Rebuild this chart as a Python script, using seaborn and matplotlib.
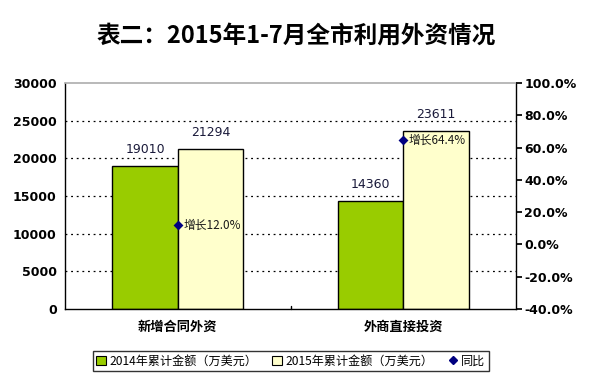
import matplotlib
matplotlib.use("Agg")
import matplotlib.pyplot as plt
from matplotlib.ticker import FuncFormatter, MultipleLocator
from matplotlib.lines import Line2D
from matplotlib.patches import Patch
import seaborn as sns
import pandas as pd

# data
categories = ["新增合同外资", "外商直接投资"]
series_names = ["2014年累计金额（万美元）", "2015年累计金额（万美元）"]
values_2014 = [19010, 14360]
values_2015 = [21294, 23611]
growth = [12.0, 64.4]

CJK = ["Noto Sans CJK SC", "DejaVu Sans"]
green, yellow, navy = "#99CC00", "#FFFFCC", "#000080"

sns.set_theme(style="white")
plt.rcParams["font.family"] = CJK
plt.rcParams.update({"text.color": "black", "xtick.color": "black",
                     "ytick.color": "black", "axes.labelcolor": "black"})

df = pd.DataFrame({
    "cat": categories * 2,
    "series": [series_names[0]] * 2 + [series_names[1]] * 2,
    "value": values_2014 + values_2015,
})

fig = plt.figure(figsize=(5.92, 3.80), dpi=100)
ax = fig.add_axes([65 / 592, 1 - 309 / 380, 451 / 592, 226 / 380])

sns.barplot(data=df, x="cat", y="value", hue="series", order=categories,
            hue_order=series_names, palette=[green, yellow], width=0.58,
            gap=0, saturation=1, edgecolor="black", linewidth=1,
            legend=False, ax=ax, zorder=2)

ax.set_xlim(-0.5, 1.5)
ax.set_ylim(0, 30000)
ax.yaxis.set_major_locator(MultipleLocator(5000))
ax.set_xlabel("")
ax.set_ylabel("")
for y in range(5000, 30000, 5000):
    ax.axhline(y, color="black", lw=0.9, ls=(0, (1.5, 3)), zorder=0)

for cont in ax.containers:
    ax.bar_label(cont, fmt="%d", padding=7, fontsize=9, color="#1a1a3a",
                 family="DejaVu Sans")

for s in ["left", "right", "bottom"]:
    ax.spines[s].set_color("black")
    ax.spines[s].set_linewidth(1)
ax.spines["top"].set_color("#b0b0b0")

ax.tick_params(axis="x", length=0, pad=8)
ax.tick_params(axis="y", length=0, pad=6)
for lab in ax.get_xticklabels():
    lab.set_fontweight("bold")
    lab.set_fontsize(9.5)
for lab in ax.get_yticklabels():
    lab.set_fontweight("bold")
    lab.set_fontsize(9)
    lab.set_family("DejaVu Sans")
# separator tick between categories
ax.plot([0.5, 0.5], [0, 400], color="black", lw=1, clip_on=False)

ax2 = ax.twinx()
gdf = pd.DataFrame({"cat": categories, "growth": growth})
sns.pointplot(data=gdf, x="cat", y="growth", order=categories,
              linestyle="none", markers="D", color=navy, markersize=3,
              ax=ax2)
ax2.set_ylim(-40, 100)
ax2.yaxis.set_major_locator(MultipleLocator(20))
ax2.yaxis.set_major_formatter(FuncFormatter(lambda v, p: f"{v:.1f}%"))
ax2.set_ylabel("")
ax2.set_xlabel("")
ax2.tick_params(axis="y", length=4, direction="out", pad=2, color="black")
for lab in ax2.get_yticklabels():
    lab.set_fontweight("bold")
    lab.set_fontsize(9)
    lab.set_family("DejaVu Sans")
for s in ax2.spines.values():
    s.set_visible(False)
ax2.set_xlim(-0.5, 1.5)

for i, g in enumerate(growth):
    ax2.text(i + 0.025, g, f"增长{g:.1f}%", fontsize=8.5, va="center",
             ha="left", color="#1a1a1a", family=CJK)

fig.text(0.5, 1 - 36 / 380, "表二：2015年1-7月全市利用外资情况", ha="center",
         va="center", fontsize=17, fontweight="bold", family=CJK)

handles = [Patch(facecolor=green, edgecolor="black", lw=0.8),
           Patch(facecolor=yellow, edgecolor="black", lw=0.8),
           Line2D([], [], marker="D", color=navy, ls="none", markersize=4)]
leg = fig.legend(handles, series_names + ["同比"], loc="center",
                 bbox_to_anchor=(291 / 592, 1 - 361 / 380), ncol=3,
                 frameon=True, fancybox=False, fontsize=8.7,
                 handlelength=0.8, handleheight=0.8, handletextpad=0.3,
                 columnspacing=1.2, borderpad=0.3)
leg.get_frame().set_edgecolor("black")
leg.get_frame().set_linewidth(1)

fig.savefig("out.png", dpi=100)
